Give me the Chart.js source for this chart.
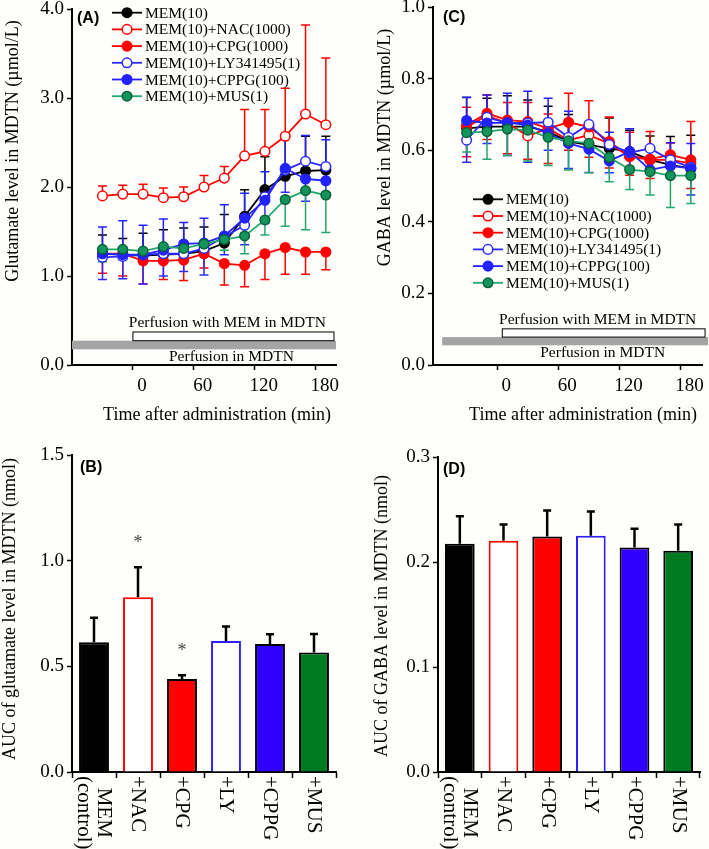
<!DOCTYPE html>
<html lang="en">
<head>
  <meta charset="UTF-8" />
  <title>Glutamate and GABA in MDTN</title>
  <script src="https://cdn.jsdelivr.net/npm/chart.js"></script>
  <style>
    body { margin: 0; background: #fefefb; width: 709px; height: 849px; position: relative; overflow: hidden; }
    canvas { position: absolute; }
  </style>
</head>
<body>
  <canvas id="chartA" width="354" height="425" style="left:0;top:0"></canvas>
  <canvas id="chartC" width="355" height="425" style="left:354px;top:0"></canvas>
  <canvas id="chartB" width="354" height="424" style="left:0;top:425px"></canvas>
  <canvas id="chartD" width="355" height="424" style="left:354px;top:425px"></canvas>

  <script>
    const SERIF = "'Liberation Serif', 'Times New Roman', serif";
    const SANS = "'Liberation Sans', Arial, sans-serif";

    // sampling times (min, midpoint of each 20 min fraction)
    const times = [-30, -10, 10, 30, 50, 70, 90, 110, 130, 150, 170, 190];
    const timeTicks = [0, 60, 120, 180];
    const groups = ['MEM(10)', 'MEM(10)+NAC(1000)', 'MEM(10)+CPG(1000)',
                    'MEM(10)+LY341495(1)', 'MEM(10)+CPPG(100)', 'MEM(10)+MUS(1)'];

    // (A) glutamate, µmol/L, mean and SEM
    const gluMEM  = [1.25, 1.24, 1.23, 1.24, 1.25, 1.28, 1.37, 1.67, 1.97, 2.12, 2.18, 2.19];
    const gluNAC  = [1.90, 1.92, 1.92, 1.88, 1.89, 2.00, 2.10, 2.35, 2.40, 2.57, 2.82, 2.70];
    const gluCPG  = [1.25, 1.25, 1.17, 1.17, 1.18, 1.25, 1.14, 1.12, 1.25, 1.32, 1.27, 1.27];
    const gluLY   = [1.21, 1.22, 1.24, 1.25, 1.25, 1.31, 1.44, 1.57, 1.89, 2.19, 2.29, 2.23];
    const gluCPPG = [1.25, 1.24, 1.24, 1.29, 1.36, 1.37, 1.45, 1.65, 1.85, 2.21, 2.09, 2.07];
    const gluMUS  = [1.30, 1.30, 1.28, 1.33, 1.31, 1.36, 1.41, 1.45, 1.63, 1.86, 1.96, 1.91];
    const gluMEMsem  = [0.21, 0.18, 0.25, 0.28, 0.29, 0.27, 0.32, 0.30, 0.37, 0.45, 0.39, 0.38];
    const gluNACsem  = [0.11, 0.10, 0.11, 0.11, 0.11, 0.13, 0.13, 0.52, 0.47, 0.54, 1.00, 0.75];
    const gluCPGsem  = [0.22, 0.25, 0.26, 0.21, 0.23, 0.16, 0.24, 0.24, 0.29, 0.30, 0.25, 0.20];
    const gluLYsem   = [0.25, 0.25, 0.33, 0.25, 0.20, 0.30, 0.20, 0.22, 0.30, 0.25, 0.45, 0.30];
    const gluCPPGsem = [0.30, 0.38, 0.33, 0.35, 0.24, 0.28, 0.35, 0.28, 0.32, 0.34, 0.49, 0.46];
    const gluMUSsem  = [0.14, 0.12, 0.12, 0.10, 0.10, 0.10, 0.12, 0.20, 0.17, 0.30, 0.44, 0.42];

    // (C) GABA, µmol/L, mean and SEM
    const gabaMEM  = [0.661, 0.666, 0.666, 0.666, 0.652, 0.624, 0.615, 0.605, 0.596, 0.573, 0.559, 0.549];
    const gabaNAC  = [0.665, 0.696, 0.676, 0.640, 0.661, 0.628, 0.642, 0.619, 0.582, 0.573, 0.573, 0.563];
    const gabaCPG  = [0.670, 0.703, 0.684, 0.680, 0.661, 0.678, 0.665, 0.624, 0.584, 0.575, 0.587, 0.573];
    const gabaLY   = [0.628, 0.692, 0.676, 0.676, 0.678, 0.636, 0.672, 0.616, 0.593, 0.605, 0.573, 0.552];
    const gabaCPPG = [0.683, 0.676, 0.677, 0.670, 0.647, 0.619, 0.603, 0.570, 0.596, 0.545, 0.556, 0.549];
    const gabaMUS  = [0.649, 0.652, 0.659, 0.656, 0.636, 0.626, 0.619, 0.580, 0.546, 0.540, 0.529, 0.529];
    const gabaMEMsem  = [0.086, 0.079, 0.086, 0.074, 0.071, 0.076, 0.055, 0.085, 0.060, 0.067, 0.079, 0.093];
    const gabaNACsem  = [0.055, 0.058, 0.057, 0.093, 0.040, 0.131, 0.096, 0.074, 0.068, 0.079, 0.047, 0.117];
    const gabaCPGsem  = [0.088, 0.073, 0.094, 0.105, 0.098, 0.078, 0.085, 0.074, 0.054, 0.054, 0.057, 0.080];
    const gabaLYsem   = [0.062, 0.073, 0.091, 0.110, 0.078, 0.087, 0.134, 0.079, 0.050, 0.060, 0.050, 0.077];
    const gabaCPPGsem = [0.065, 0.078, 0.082, 0.095, 0.098, 0.090, 0.070, 0.080, 0.064, 0.060, 0.065, 0.070];
    const gabaMUSsem  = [0.054, 0.077, 0.074, 0.086, 0.079, 0.081, 0.082, 0.068, 0.056, 0.065, 0.089, 0.078];

    // side on which each group's SEM bar is drawn (1 up, -1 down)
    const semSide = [1, 1, -1, -1, 1, -1];

    // (B)/(D) AUC, nmol
    const aucLabels = [['MEM', '(control)'], '+NAC', '+CPG', '+LY', '+CPPG', '+MUS'];
    const aucGlu     = [0.614, 0.827, 0.440, 0.620, 0.606, 0.566];
    const aucGluSem  = [0.116, 0.142, 0.018, 0.068, 0.046, 0.087];
    const aucGluSig  = [false, true, true, false, false, false];
    const aucGaba    = [0.2175, 0.2203, 0.2244, 0.2250, 0.2137, 0.2108];
    const aucGabaSem = [0.0260, 0.0153, 0.0246, 0.0230, 0.0180, 0.0248];
    const aucGabaSig = [false, false, false, false, false, false];

    const lineStyle = [
      { color: '#000000', fill: '#000000', edge: '#000000' },
      { color: '#ff0000', fill: '#ffffff', edge: '#ff0000' },
      { color: '#ff0000', fill: '#ff0000', edge: '#ff0000' },
      { color: '#2b2bff', fill: '#ffffff', edge: '#2b2bff' },
      { color: '#2222ff', fill: '#2222ff', edge: '#2222ff' },
      { color: '#22a86c', fill: '#13945a', edge: '#06603a' }
    ];
    const barStyle = [
      { fill: '#000000', edge: '#000000' },
      { fill: '#ffffff', edge: '#ff0000' },
      { fill: '#ff0000', edge: '#000000' },
      { fill: '#ffffff', edge: '#2d1fff' },
      { fill: '#3000ff', edge: '#000000' },
      { fill: '#007a20', edge: '#000000' }
    ];

    function lineSets(means, sems) {
      return means.map((m, i) => ({
        label: groups[i],
        data: times.map((t, k) => ({ x: t, y: m[k] })),
        sem: sems[i],
        side: semSide[i],
        borderColor: lineStyle[i].color,
        borderWidth: 1.8,
        pointRadius: 4.8,
        pointHoverRadius: 4.8,
        pointBorderWidth: 1.5,
        pointBackgroundColor: lineStyle[i].fill,
        pointBorderColor: lineStyle[i].edge,
        order: means.length - i
      }));
    }

    function fixY(w) { return s => { s.width = w; s.paddingTop = 0; s.paddingBottom = 0; }; }
    function fixX(h) { return s => { s.height = h; s.paddingLeft = 0; s.paddingRight = 0; }; }

    const axisGrid = { display: true, drawOnChartArea: false, tickLength: 5, tickColor: '#000', tickWidth: 1.5 };
    const axisBorder = { display: true, color: '#000', width: 2 };
    const tickFont = { family: SERIF, size: 19, lineHeight: 1 };

    // SEM whiskers on the time courses
    const semBars = {
      id: 'semBars',
      beforeDatasetsDraw(chart) {
        const { ctx, scales: { x, y } } = chart;
        ctx.save();
        ctx.lineWidth = 1.5;
        chart.data.datasets.forEach(ds => {
          ctx.strokeStyle = ds.borderColor;
          ds.data.forEach((p, k) => {
            const px = x.getPixelForValue(p.x);
            const py = y.getPixelForValue(p.y);
            const ey = y.getPixelForValue(p.y + ds.side * ds.sem[k]);
            ctx.beginPath();
            ctx.moveTo(px, py); ctx.lineTo(px, ey);
            ctx.moveTo(px - 4.5, ey); ctx.lineTo(px + 4.5, ey);
            ctx.stroke();
          });
        });
        ctx.restore();
      }
    };

    // SEM whiskers and significance marks on the bars
    const barSem = {
      id: 'barSem',
      afterDatasetsDraw(chart) {
        const { ctx, scales: { x, y } } = chart;
        const ds = chart.data.datasets[0];
        ctx.save();
        ctx.strokeStyle = '#000';
        ctx.lineWidth = 2.5;
        ds.data.forEach((v, i) => {
          const px = x.getPixelForValue(i);
          const top = y.getPixelForValue(v + ds.sem[i]);
          ctx.beginPath();
          ctx.moveTo(px, y.getPixelForValue(v)); ctx.lineTo(px, top);
          ctx.moveTo(px - 4, top); ctx.lineTo(px + 4, top);
          ctx.stroke();
          if (ds.sig[i]) {
            ctx.fillStyle = '#444';
            ctx.font = `18px ${SERIF}`;
            ctx.textAlign = 'center';
            ctx.textBaseline = 'middle';
            ctx.fillText('*', px, top - 24);
          }
        });
        ctx.restore();
      }
    };

    // perfusion periods drawn under the curves
    const perfusion = {
      id: 'perfusion',
      beforeDatasetsDraw(chart, args, o) {
        const { ctx, scales: { x, y } } = chart;
        const rect = (r) => [x.getPixelForValue(r[0]), y.getPixelForValue(r[3]),
                             x.getPixelForValue(r[1]) - x.getPixelForValue(r[0]),
                             y.getPixelForValue(r[2]) - y.getPixelForValue(r[3])];
        ctx.save();
        ctx.fillStyle = '#a4a4a4';
        ctx.fillRect(...rect(o.gray));
        ctx.fillStyle = '#ffffff';
        ctx.strokeStyle = '#000';
        ctx.lineWidth = 1;
        ctx.fillRect(...rect(o.box));
        ctx.strokeRect(...rect(o.box));
        ctx.fillStyle = '#000';
        ctx.font = `15.5px ${SERIF}`;
        ctx.textAlign = 'center';
        ctx.textBaseline = 'middle';
        ctx.fillText('Perfusion with MEM in MDTN', x.getPixelForValue(o.boxText[0]), y.getPixelForValue(o.boxText[1]));
        ctx.fillText('Perfusion in MDTN', x.getPixelForValue(o.grayText[0]), y.getPixelForValue(o.grayText[1]));
        ctx.restore();
      }
    };

    const seriesKey = {
      id: 'seriesKey',
      afterDraw(chart, args, o) {
        const { ctx } = chart;
        ctx.save();
        ctx.font = `15.5px ${SERIF}`;
        ctx.textBaseline = 'middle';
        chart.data.datasets.forEach((ds, i) => {
          const yy = o.top + i * o.step;
          ctx.strokeStyle = ds.borderColor;
          ctx.lineWidth = ds.borderWidth;
          ctx.beginPath();
          ctx.moveTo(o.left, yy); ctx.lineTo(o.left + 30, yy);
          ctx.stroke();
          ctx.beginPath();
          ctx.arc(o.left + 15, yy, ds.pointRadius, 0, Math.PI * 2);
          ctx.fillStyle = ds.pointBackgroundColor;
          ctx.fill();
          ctx.lineWidth = ds.pointBorderWidth;
          ctx.strokeStyle = ds.pointBorderColor;
          ctx.stroke();
          ctx.fillStyle = '#000';
          ctx.fillText(ds.label, o.left + 33, yy + 1);
        });
        ctx.restore();
      }
    };

    const captions = {
      id: 'captions',
      afterDraw(chart, args, o) {
        const { ctx } = chart;
        o.items.forEach(it => {
          ctx.save();
          ctx.font = it.font;
          ctx.fillStyle = '#000';
          ctx.textAlign = it.align || 'center';
          ctx.textBaseline = 'middle';
          ctx.translate(it.x, it.y);
          if (it.rotate) ctx.rotate(it.rotate);
          ctx.fillText(it.text, 0, 0);
          ctx.restore();
        });
      }
    };

    // vertical category names, reading top to bottom
    const barNames = {
      id: 'barNames',
      afterDraw(chart) {
        const { ctx, scales: { x } } = chart;
        ctx.save();
        ctx.font = `21px ${SERIF}`;
        ctx.fillStyle = '#000';
        ctx.textAlign = 'center';
        ctx.textBaseline = 'middle';
        chart.data.labels.forEach((lab, i) => {
          const lines = [].concat(lab);
          const w = Math.max(...lines.map(l => ctx.measureText(l).width));
          ctx.save();
          ctx.translate(x.getPixelForValue(i), x.top + 4);
          ctx.rotate(Math.PI / 2);
          lines.forEach((l, j) => ctx.fillText(l, w / 2, (j - (lines.length - 1) / 2) * 20));
          ctx.restore();
        });
        ctx.restore();
      }
    };

    const titleFont = `18px ${SERIF}`;
    const panelFont = `bold 16px ${SANS}`;

    function timeChart(id, sets, yMax, yStep, pad, yWidth, opts) {
      return new Chart(document.getElementById(id), {
        type: 'line',
        data: { datasets: sets },
        options: {
          responsive: false,
          animation: false,
          layout: { padding: pad },
          plugins: {
            legend: { display: false },
            tooltip: { enabled: false },
            perfusion: opts.perfusion,
            seriesKey: opts.key,
            captions: { items: opts.captions }
          },
          scales: {
            x: {
              type: 'linear', min: opts.xMin, max: opts.xMax,
              afterBuildTicks: s => { s.ticks = timeTicks.map(v => ({ value: v })); },
              ticks: { font: tickFont, color: '#000', padding: 7, labelOffset: 9, maxRotation: 0, callback: v => String(v) },
              grid: axisGrid, border: axisBorder,
              afterFit: fixX(60)
            },
            y: {
              min: 0, max: yMax,
              ticks: { font: tickFont, color: '#000', stepSize: yStep, padding: 3, callback: v => v.toFixed(1) },
              grid: axisGrid, border: axisBorder,
              afterFit: fixY(yWidth)
            }
          }
        },
        plugins: [perfusion, semBars, seriesKey, captions]
      });
    }

    function aucChart(id, values, sems, sig, yMax, yStep, pad, yWidth, caps) {
      return new Chart(document.getElementById(id), {
        type: 'bar',
        data: {
          labels: aucLabels,
          datasets: [{
            data: values, sem: sems, sig: sig,
            backgroundColor: barStyle.map(s => s.fill),
            borderColor: barStyle.map(s => s.edge),
            borderWidth: 2,
            barPercentage: 0.68,
            categoryPercentage: 1
          }]
        },
        options: {
          responsive: false,
          animation: false,
          layout: { padding: pad },
          plugins: {
            legend: { display: false },
            tooltip: { enabled: false },
            captions: { items: caps }
          },
          scales: {
            x: {
              ticks: { display: false },
              grid: { ...axisGrid, offset: true, tickLength: 6 },
              border: axisBorder,
              afterFit: fixX(77)
            },
            y: {
              min: 0, max: yMax,
              ticks: { font: tickFont, color: '#000', stepSize: yStep, padding: 3, callback: v => v.toFixed(1) },
              grid: axisGrid, border: axisBorder,
              afterFit: fixY(yWidth)
            }
          }
        },
        plugins: [barSem, barNames, captions]
      });
    }

    timeChart('chartA',
      lineSets([gluMEM, gluNAC, gluCPG, gluLY, gluCPPG, gluMUS],
               [gluMEMsem, gluNACsem, gluCPGsem, gluLYsem, gluCPPGsem, gluMUSsem]),
      4, 1, { top: 9, right: 18, left: 0, bottom: 0 }, 72,
      {
        xMin: -60, xMax: 200,
        perfusion: { gray: [-60, 200, 0.176, 0.273], box: [0, 198, 0.273, 0.371], boxText: [93, 0.47], grayText: [97, 0.09] },
        key: { left: 112, top: 12.7, step: 16.7 },
        captions: [
          { text: '(A)', x: 77, y: 18.5, font: panelFont, align: 'left' },
          { text: 'Glutamate level in MDTN (µmol/L)', x: 13, y: 151, font: titleFont, rotate: -Math.PI / 2 },
          { text: 'Time after administration (min)', x: 217, y: 415, font: titleFont }
        ]
      });

    timeChart('chartC',
      lineSets([gabaMEM, gabaNAC, gabaCPG, gabaLY, gabaCPPG, gabaMUS],
               [gabaMEMsem, gabaNACsem, gabaCPGsem, gabaLYsem, gabaCPPGsem, gabaMUSsem]),
      1, 0.2, { top: 7, right: 7, left: 0, bottom: 0 }, 79,
      {
        xMin: -63, xMax: 201,
        perfusion: { gray: [-54, 207, 0.055, 0.078], box: [5, 204, 0.078, 0.101], boxText: [98.6, 0.126], grayText: [103.5, 0.034] },
        key: { left: 119, top: 199.3, step: 16.7 },
        captions: [
          { text: '(C)', x: 89, y: 17.5, font: panelFont, align: 'left' },
          { text: 'GABA level in MDTN (µmol/L)', x: 31, y: 147.5, font: titleFont, rotate: -Math.PI / 2 },
          { text: 'Time after administration (min)', x: 229, y: 415, font: titleFont }
        ]
      });

    aucChart('chartB', aucGlu, aucGluSem, aucGluSig, 1.5, 0.5,
      { top: 30, right: 18, left: 0, bottom: 0 }, 72,
      [
        { text: '(B)', x: 80, y: 42.5, font: panelFont, align: 'left' },
        { text: 'AUC of glutamate level in MDTN (nmol)', x: 10, y: 184, font: titleFont, rotate: -Math.PI / 2 }
      ]);

    aucChart('chartD', aucGaba, aucGabaSem, aucGabaSig, 0.3, 0.1,
      { top: 32, right: 9, left: 0, bottom: 0 }, 84,
      [
        { text: '(D)', x: 89, y: 45, font: panelFont, align: 'left' },
        { text: 'AUC of GABA level in MDTN (nmol)', x: 28, y: 191, font: titleFont, rotate: -Math.PI / 2 }
      ]);
  </script>
</body>
</html>
